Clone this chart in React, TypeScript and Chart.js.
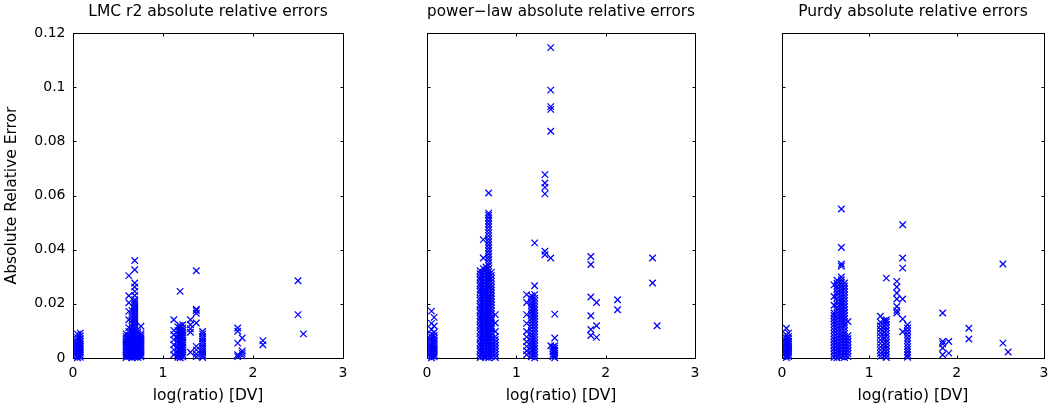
import React, { useEffect, useRef } from "react";
import { Chart, registerables } from "chart.js";

Chart.register(...registerables);

// ---------- axis definitions ----------
const xTicks = [0, 1, 2, 3];
const xTickLabels = ["0", "1", "2", "3"];
const yTicks = [0, 0.02, 0.04, 0.06, 0.08, 0.1, 0.12];
const yTickLabels = ["0", "0.02", "0.04", "0.06", "0.08", "0.1", "0.12"];

const panelTitles = [
  "LMC r2 absolute relative errors",
  "power\u2212law absolute relative errors",
  "Purdy absolute relative errors",
];
const xAxisLabel = "log(ratio) [DV]";
const yAxisLabel = "Absolute Relative Error";

// ---------- data: [log(ratio), absolute relative errors at that ratio] ----------
type Column = [number, number[]];

const lmcColumns: Column[] = [
  [0.05, [0.0001, 0.0007, 0.0013, 0.0019, 0.0026, 0.0032, 0.0039, 0.0045, 0.0051, 0.0058, 0.0066, 0.0076, 0.0088]],
  [0.08, [0.0003, 0.001, 0.0017, 0.0023, 0.003, 0.0036, 0.0043, 0.0049, 0.0056, 0.0063, 0.0071, 0.0082, 0.0092]],
  [0.59, [0.0002, 0.0009, 0.0016, 0.0024, 0.0031, 0.0039, 0.0047, 0.0055, 0.0063, 0.0071, 0.008, 0.0089]],
  [0.62, [0.0005, 0.0012, 0.002, 0.0027, 0.0035, 0.0043, 0.0051, 0.0059, 0.0067, 0.0075, 0.0084, 0.0098, 0.0112, 0.0141, 0.0172, 0.0204, 0.023, 0.0304]],
  [0.655, [0.0001, 0.0008, 0.0015, 0.0023, 0.003, 0.0038, 0.0046, 0.0054, 0.0062, 0.007, 0.0079, 0.0088, 0.0097, 0.0106, 0.0116, 0.0127, 0.0139, 0.0151, 0.0163, 0.0176]],
  [0.686, [0.0003, 0.001, 0.0018, 0.0025, 0.0033, 0.0041, 0.0049, 0.0057, 0.0065, 0.0073, 0.0081, 0.0089, 0.0097, 0.0105, 0.0113, 0.0121, 0.0129, 0.0137, 0.0145, 0.0153, 0.0161, 0.0169, 0.0177, 0.0185, 0.0193, 0.0201, 0.0208, 0.0215, 0.0231, 0.0246, 0.0262, 0.0277, 0.0326, 0.036]],
  [0.72, [0.0002, 0.0009, 0.0017, 0.0024, 0.0032, 0.004, 0.0048, 0.0056, 0.0064, 0.0072, 0.008, 0.0088, 0.0096]],
  [0.755, [0.0004, 0.0011, 0.0019, 0.0026, 0.0034, 0.0042, 0.005, 0.0058, 0.0066, 0.0074, 0.0082, 0.009, 0.0117]],
  [1.12, [0.0012, 0.003, 0.0049, 0.0068, 0.0086, 0.0102, 0.0141]],
  [1.165, [0.0003, 0.0012, 0.0021, 0.0031, 0.0041, 0.0052, 0.0063, 0.0075, 0.0088, 0.0101, 0.0115]],
  [1.19, [0.0001, 0.0008, 0.0016, 0.0024, 0.0032, 0.004, 0.0048, 0.0056, 0.0064, 0.0072, 0.008, 0.0088, 0.0096, 0.0104, 0.0112, 0.012, 0.0246]],
  [1.22, [0.0004, 0.0012, 0.0021, 0.003, 0.0039, 0.0048, 0.0057, 0.0066, 0.0075, 0.0084, 0.0093, 0.0102, 0.0111, 0.0123]],
  [1.305, [0.0021, 0.0095, 0.0108, 0.0123, 0.0141]],
  [1.37, [0.0005, 0.0015, 0.003, 0.0043, 0.0129, 0.0165, 0.0175, 0.018, 0.0322]],
  [1.44, [0.0002, 0.001, 0.0018, 0.0026, 0.0035, 0.0044, 0.0053, 0.0062, 0.0071, 0.008, 0.0089, 0.0098]],
  [1.83, [0.0005, 0.0012, 0.0055, 0.0099, 0.0111]],
  [1.88, [0.0008, 0.0017, 0.0026, 0.0074]],
  [2.11, [0.0049, 0.0064]],
  [2.5, [0.016, 0.0285]],
  [2.56, [0.0089]],
];

const powerLawColumns: Column[] = [
  [0.05, [0.0001, 0.0008, 0.0015, 0.0022, 0.003, 0.0037, 0.0045, 0.0053, 0.0061, 0.0069, 0.0078, 0.0088, 0.0105, 0.0128, 0.0173]],
  [0.08, [0.0004, 0.0011, 0.0018, 0.0026, 0.0033, 0.0041, 0.0049, 0.0057, 0.0065, 0.0073, 0.0083, 0.0095, 0.0118, 0.015]],
  [0.595, [0.0002, 0.0012, 0.0025, 0.0034, 0.0047, 0.0056, 0.0069, 0.0078, 0.0091, 0.01, 0.0113, 0.0122, 0.0135, 0.0146, 0.0155, 0.0168, 0.0177, 0.019, 0.0199, 0.0212, 0.0221, 0.0234, 0.0245, 0.0254, 0.0267, 0.0276, 0.0289, 0.0298, 0.0311, 0.0322]],
  [0.63, [0.0006, 0.0017, 0.0029, 0.004, 0.0051, 0.0062, 0.0074, 0.0085, 0.0096, 0.0107, 0.0118, 0.0129, 0.0141, 0.0152, 0.0163, 0.0174, 0.0185, 0.0196, 0.0207, 0.0218, 0.0229, 0.024, 0.0251, 0.0262, 0.0273, 0.0284, 0.0295, 0.0306, 0.0317, 0.033, 0.0369, 0.0437]],
  [0.66, [0.0003, 0.0014, 0.0026, 0.0037, 0.0049, 0.006, 0.0071, 0.0083, 0.0094, 0.0105, 0.0116, 0.0127, 0.0138, 0.0149, 0.016, 0.0171, 0.0183, 0.0194, 0.0205, 0.0216, 0.0227, 0.0238, 0.0249, 0.026, 0.0271, 0.0282, 0.0293, 0.0304, 0.0315, 0.0326, 0.0336]],
  [0.69, [0.0001, 0.0011, 0.0022, 0.0033, 0.0044, 0.0055, 0.0066, 0.0077, 0.0088, 0.0099, 0.011, 0.0121, 0.0132, 0.0143, 0.0154, 0.0165, 0.0176, 0.0187, 0.0198, 0.0209, 0.022, 0.0231, 0.0242, 0.0253, 0.0264, 0.0275, 0.0286, 0.0297, 0.0308, 0.0319, 0.033, 0.0341, 0.0352, 0.0363, 0.0374, 0.0385, 0.0396, 0.0407, 0.0418, 0.0429, 0.044, 0.0451, 0.0462, 0.0473, 0.0484, 0.0495, 0.0506, 0.0517, 0.0527, 0.0535, 0.0609]],
  [0.72, [0.0005, 0.0016, 0.0027, 0.0039, 0.005, 0.0061, 0.0073, 0.0084, 0.0095, 0.0106, 0.0118, 0.0129, 0.014, 0.0151, 0.0162, 0.0173, 0.0184, 0.0195, 0.0206, 0.0217, 0.0228, 0.0239, 0.025, 0.0261, 0.0272, 0.0283, 0.0294, 0.0305, 0.0316]],
  [0.765, [0.0002, 0.0013, 0.0024, 0.0035, 0.0046, 0.0057, 0.0068, 0.0079, 0.0098, 0.0129, 0.016]],
  [1.115, [0.0012, 0.0027, 0.0043, 0.006, 0.0078, 0.0098, 0.0128, 0.016, 0.0205, 0.0234]],
  [1.17, [0.0004, 0.0015, 0.0027, 0.0039, 0.0051, 0.0063, 0.0075, 0.0087, 0.0099, 0.0111, 0.0123, 0.0135, 0.0147, 0.0159, 0.0171, 0.0183, 0.0195, 0.0207, 0.0219, 0.023]],
  [1.205, [0.0001, 0.0012, 0.0023, 0.0034, 0.0045, 0.0056, 0.0067, 0.0078, 0.0089, 0.01, 0.0111, 0.0122, 0.0133, 0.0144, 0.0155, 0.0166, 0.0177, 0.0188, 0.0199, 0.021, 0.0221, 0.0234, 0.0267, 0.0425]],
  [1.32, [0.0381, 0.0394, 0.0606, 0.063, 0.0646, 0.0677]],
  [1.385, [0.0045, 0.0369, 0.0837, 0.0918, 0.0928, 0.0989, 0.1146]],
  [1.41, [0.0005, 0.0014, 0.0024, 0.0033, 0.0041]],
  [1.43, [0.0001, 0.0009, 0.0018, 0.0027, 0.0036, 0.0045, 0.0074, 0.0162]],
  [1.834, [0.0083, 0.0105, 0.0156, 0.0225, 0.0345, 0.0375]],
  [1.898, [0.0076, 0.0119, 0.0205]],
  [2.133, [0.0178, 0.0215]],
  [2.525, [0.0277, 0.0369]],
  [2.576, [0.0119]],
];

const purdyColumns: Column[] = [
  [0.05, [0.0002, 0.001, 0.0018, 0.0026, 0.0034, 0.0042, 0.005, 0.0058, 0.0066, 0.0075, 0.0085, 0.011]],
  [0.075, [0.0005, 0.0013, 0.0021, 0.0029, 0.0037, 0.0045, 0.0053, 0.0061, 0.007, 0.008, 0.0092]],
  [0.596, [0.0003, 0.0014, 0.0025, 0.0036, 0.0047, 0.0058, 0.0069, 0.008, 0.0091, 0.0102, 0.0113, 0.0124, 0.0135, 0.0146, 0.0157, 0.0166, 0.0195, 0.0227, 0.027]],
  [0.63, [0.0001, 0.0012, 0.0023, 0.0034, 0.0045, 0.0056, 0.0067, 0.0078, 0.0089, 0.01, 0.0111, 0.0122, 0.0133, 0.0144, 0.0155, 0.0166, 0.0177, 0.0188, 0.0199, 0.021, 0.0221, 0.0232, 0.0243, 0.0254, 0.0265, 0.0276, 0.0287]],
  [0.68, [0.0004, 0.0015, 0.0026, 0.0037, 0.0048, 0.0059, 0.007, 0.0081, 0.0092, 0.0103, 0.0114, 0.0125, 0.0136, 0.0147, 0.0158, 0.0169, 0.018, 0.0191, 0.0202, 0.0213, 0.0224, 0.0235, 0.0246, 0.0257, 0.0268, 0.0279, 0.0289, 0.0299, 0.0339, 0.0347, 0.0408, 0.055]],
  [0.715, [0.0002, 0.0013, 0.0024, 0.0035, 0.0046, 0.0057, 0.0068, 0.0079, 0.009, 0.0101, 0.0112, 0.0123, 0.0134, 0.0145, 0.0156, 0.0167, 0.0178, 0.0189, 0.02, 0.0211, 0.0222, 0.0233, 0.0244, 0.0255, 0.0266, 0.0277]],
  [0.755, [0.0005, 0.0016, 0.0027, 0.0038, 0.0049, 0.006, 0.0071, 0.0082, 0.0135]],
  [1.127, [0.0006, 0.0017, 0.0029, 0.0041, 0.0054, 0.0067, 0.008, 0.0093, 0.0106, 0.0119, 0.0132, 0.0154]],
  [1.17, [0.0008, 0.003, 0.0052, 0.0074, 0.0096, 0.0118, 0.0138]],
  [1.195, [0.0002, 0.0013, 0.0024, 0.0035, 0.0046, 0.0057, 0.0068, 0.0079, 0.009, 0.0101, 0.0112, 0.0123, 0.0134, 0.0141, 0.0295]],
  [1.315, [0.0166, 0.0175, 0.019, 0.0218, 0.024, 0.0262, 0.0283]],
  [1.382, [0.0097, 0.0144, 0.0218, 0.0332, 0.0369, 0.0492]],
  [1.438, [0.0003, 0.0012, 0.0022, 0.0032, 0.0042, 0.0053, 0.0064, 0.0075, 0.0087, 0.0099, 0.0111, 0.0123]],
  [1.84, [0.0012, 0.0037, 0.0052, 0.0061, 0.0166]],
  [1.91, [0.0018, 0.0061]],
  [2.14, [0.007, 0.011]],
  [2.53, [0.0055, 0.0347]],
  [2.59, [0.0022]],
];

// ---------- rendering ----------
const FONT = "'DejaVu Sans', 'Liberation Sans', sans-serif";
const MARKER_BLUE = "rgb(0,0,255)";

const matlabBox = {
  id: "matlabBox",
  beforeDatasetsDraw(chart: any) {
    const { ctx, chartArea: a, scales } = chart;
    const l = Math.round(a.left) + 0.5;
    const r = Math.round(a.right) + 0.5;
    const t = Math.round(a.top) + 0.5;
    const b = Math.round(a.bottom) + 0.5;
    const tl = 3;
    ctx.save();
    ctx.strokeStyle = "#000";
    ctx.lineWidth = 1;
    ctx.strokeRect(l, t, r - l, b - t);
    ctx.beginPath();
    scales.x.ticks.forEach((_: any, i: number) => {
      const px = Math.round(scales.x.getPixelForTick(i)) + 0.5;
      ctx.moveTo(px, b);
      ctx.lineTo(px, b - tl);
      ctx.moveTo(px, t);
      ctx.lineTo(px, t + tl);
    });
    scales.y.ticks.forEach((_: any, i: number) => {
      const py = Math.round(scales.y.getPixelForTick(i)) + 0.5;
      ctx.moveTo(l, py);
      ctx.lineTo(l + tl, py);
      ctx.moveTo(r, py);
      ctx.lineTo(r - tl, py);
    });
    ctx.stroke();
    ctx.restore();
  },
};

type Panel = {
  title: string;
  columns: Column[];
  left: number;
  width: number;
  yAxisWidth: number;
  padRight: number;
  showYLabels: boolean;
};

const panels: Panel[] = [
  { title: panelTitles[0], columns: lmcColumns, left: 0, width: 355, yAxisWidth: 73, padRight: 12, showYLabels: true },
  { title: panelTitles[1], columns: powerLawColumns, left: 355, width: 355, yAxisWidth: 72, padRight: 15, showYLabels: false },
  { title: panelTitles[2], columns: purdyColumns, left: 710, width: 345, yAxisWidth: 72, padRight: 6, showYLabels: false },
];

function makeConfig(p: Panel): any {
  const points = p.columns.flatMap(([x, ys]) => ys.map((y) => ({ x, y })));
  return {
    type: "scatter",
    data: {
      datasets: [
        {
          data: points,
          pointStyle: "crossRot",
          pointRadius: 4.6,
          pointHoverRadius: 4.6,
          borderColor: MARKER_BLUE,
          backgroundColor: MARKER_BLUE,
          borderWidth: 1.25,
          clip: false,
        },
      ],
    },
    options: {
      animation: false,
      responsive: false,
      devicePixelRatio: 1,
      events: [],
      layout: { padding: { left: 0, right: p.padRight, top: 0, bottom: 0 } },
      plugins: {
        legend: { display: false },
        tooltip: { enabled: false },
        title: {
          display: true,
          text: p.title,
          fullSize: false,
          color: "#000",
          font: { family: FONT, size: 15.5, weight: "normal" },
          padding: { top: 2.6, bottom: 11.8 },
        },
      },
      scales: {
        x: {
          type: "linear",
          min: 0,
          max: 3,
          afterBuildTicks: (s: any) => {
            s.ticks = xTicks.map((v) => ({ value: v }));
          },
          afterFit: (s: any) => {
            s.height = 48;
          },
          ticks: {
            autoSkip: false,
            maxRotation: 0,
            color: "#000",
            padding: 6.6,
            font: { family: FONT, size: 14 },
            callback: (_v: any, i: number) => xTickLabels[i],
          },
          grid: { display: false, drawTicks: false },
          border: { display: false },
          title: {
            display: true,
            text: xAxisLabel,
            color: "#000",
            font: { family: FONT, size: 15.5 },
            padding: { top: 0, bottom: 1.1 },
          },
        },
        y: {
          type: "linear",
          min: 0,
          max: 0.12,
          afterBuildTicks: (s: any) => {
            s.ticks = yTicks.map((v) => ({ value: v }));
          },
          afterFit: (s: any) => {
            s.width = p.yAxisWidth;
          },
          ticks: {
            display: p.showYLabels,
            autoSkip: false,
            color: "#000",
            padding: 7.5,
            font: { family: FONT, size: 14 },
            callback: (_v: any, i: number) => yTickLabels[i],
          },
          grid: { display: false, drawTicks: false },
          border: { display: false },
          title: {
            display: p.showYLabels,
            text: yAxisLabel,
            color: "#000",
            font: { family: FONT, size: 15.5 },
            padding: { top: 2.2, bottom: 0 },
          },
        },
      },
    },
    plugins: [matlabBox],
  };
}

function PanelChart({ panel }: { panel: Panel }) {
  const ref = useRef<HTMLCanvasElement | null>(null);
  useEffect(() => {
    if (!ref.current) return;
    const chart = new Chart(ref.current, makeConfig(panel));
    return () => chart.destroy();
  }, [panel]);
  return (
    <canvas
      ref={ref}
      width={panel.width}
      height={406}
      style={{ position: "absolute", left: panel.left, top: 0, width: panel.width, height: 406 }}
    />
  );
}

export default function App() {
  return (
    <div style={{ position: "absolute", left: 0, top: 0, width: 1055, height: 406, background: "#fff" }}>
      {panels.map((p) => (
        <PanelChart key={p.title} panel={p} />
      ))}
    </div>
  );
}
